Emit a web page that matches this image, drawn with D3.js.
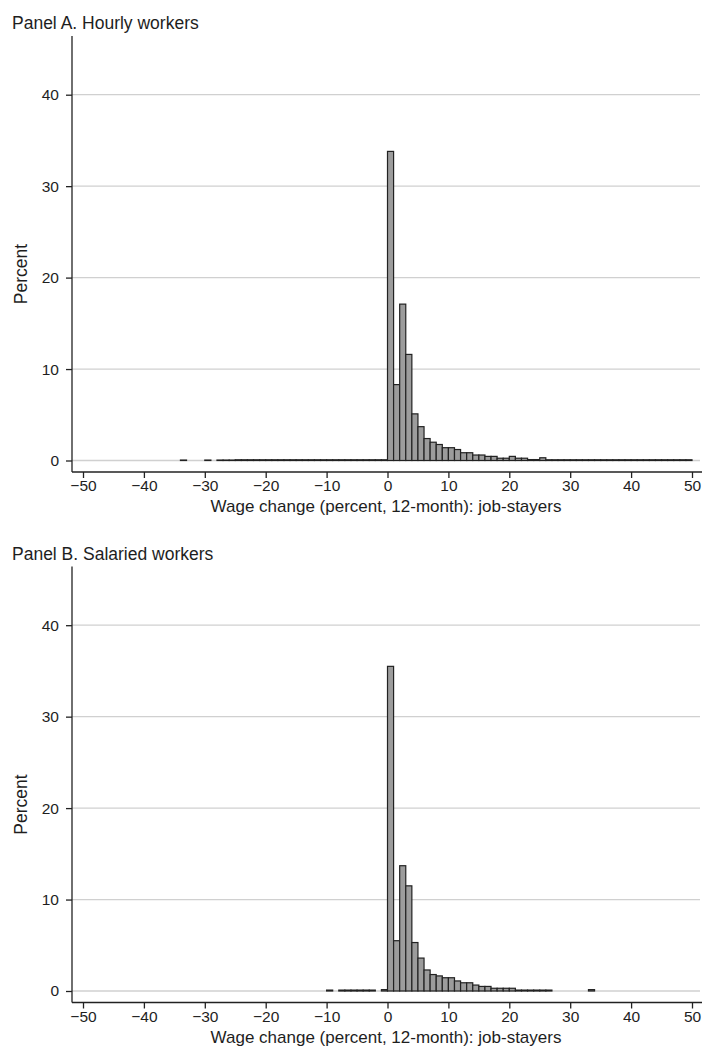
<!DOCTYPE html>
<html lang="en">
<head>
  <meta charset="utf-8" />
  <title>Wage change histograms</title>
  <script src="https://cdn.jsdelivr.net/npm/d3@7"></script>
  <style>
    body { margin: 0; background: #fff; }
    text { font-family: "Liberation Sans", Arial, sans-serif; fill: #1e1e1e; }
  </style>
</head>
<body>
<script>
// bin left edges, 1-point bins from -50 to 49
var binStarts = d3.range(-50, 50, 1);
var xTicks = [-50, -40, -30, -20, -10, 0, 10, 20, 30, 40, 50];
var yTicks = [0, 10, 20, 30, 40];

// Panel A: hourly workers (percent of job-stayers in each bin)
var hourlyValues = [
  0, 0, 0, 0, 0, 0, 0, 0, 0, 0,            // -50..-41
  0, 0, 0, 0, 0, 0, 0.05, 0, 0, 0,         // -40..-31
  0.05, 0, 0.05, 0.05, 0.05, 0.08, 0.08, 0.08, 0.08, 0.08, // -30..-21
  0.08, 0.08, 0.08, 0.08, 0.08, 0.08, 0.08, 0.08, 0.08, 0.08, // -20..-11
  0.08, 0.08, 0.08, 0.08, 0.08, 0.08, 0.08, 0.08, 0.08, 0.08, // -10..-1
  33.8, 8.3, 17.1, 11.6, 5.1, 3.7, 2.4, 2.0, 1.75, 1.4,      // 0..9
  1.4, 1.2, 0.85, 0.85, 0.6, 0.6, 0.45, 0.45, 0.25, 0.25,    // 10..19
  0.45, 0.25, 0.25, 0.1, 0.1, 0.3, 0.08, 0.08, 0.08, 0.08,   // 20..29
  0.08, 0.08, 0.08, 0.08, 0.08, 0.08, 0.08, 0.08, 0.08, 0.08, // 30..39
  0.08, 0.08, 0.08, 0.08, 0.08, 0.08, 0.08, 0.08, 0.08, 0.08  // 40..49
];

// Panel B: salaried workers
var salariedValues = [
  0, 0, 0, 0, 0, 0, 0, 0, 0, 0,            // -50..-41
  0, 0, 0, 0, 0, 0, 0, 0, 0, 0,            // -40..-31
  0, 0, 0, 0, 0, 0, 0, 0, 0, 0,            // -30..-21
  0, 0, 0, 0, 0, 0, 0, 0, 0, 0,            // -20..-11
  0.1, 0, 0.1, 0.1, 0.1, 0.1, 0.1, 0.1, 0, 0.15, // -10..-1
  35.5, 5.5, 13.7, 11.5, 5.3, 3.6, 2.3, 1.8, 1.65, 1.45,    // 0..9
  1.45, 1.1, 0.9, 0.9, 0.65, 0.5, 0.5, 0.3, 0.3, 0.3,       // 10..19
  0.3, 0.1, 0.1, 0.1, 0.1, 0.1, 0.1, 0, 0, 0,               // 20..29
  0, 0, 0, 0.15, 0, 0, 0, 0, 0, 0,                          // 30..39
  0, 0, 0, 0, 0, 0, 0, 0, 0, 0                              // 40..49
];

var panels = [
  {title: "Panel A. Hourly workers", values: hourlyValues, top: 0},
  {title: "Panel B. Salaried workers", values: salariedValues, top: 530.5}
];

var width = 702, height = 1049;
var svg = d3.select("body").append("svg")
  .attr("width", width)
  .attr("height", height);

var x = d3.scaleLinear().domain([-50, 50]).range([83, 692]);

panels.forEach(function(p) {
  var g = svg.append("g").attr("transform", "translate(0," + p.top + ")");
  var y = d3.scaleLinear().domain([0, 40]).range([460.5, 94.7]);
  var axisY = 472, plotLeft = 72, plotRight = 700;

  // gridlines
  g.selectAll("line.grid")
    .data(yTicks)
    .enter().append("line")
    .attr("class", "grid")
    .attr("x1", plotLeft).attr("x2", plotRight)
    .attr("y1", function(d) { return y(d); })
    .attr("y2", function(d) { return y(d); })
    .attr("stroke", "#d0d0d0")
    .attr("stroke-width", 1.3);

  // bars
  g.selectAll("rect.bar")
    .data(p.values)
    .enter().append("rect")
    .attr("class", "bar")
    .attr("x", function(d, i) { return x(binStarts[i]); })
    .attr("width", function(d, i) { return x(binStarts[i] + 1) - x(binStarts[i]); })
    .attr("y", function(d) { return y(d); })
    .attr("height", function(d) { return y(0) - y(d); })
    .attr("fill", "#9c9c9c")
    .attr("stroke", function(d) { return d === 0 ? "#555" : "#222"; })
    .attr("stroke-width", function(d) { return d === 0 ? 1 : 1.2; });

  // y axis
  var yAxis = d3.axisLeft(y).tickValues(yTicks).tickSize(6).tickPadding(7)
    .tickFormat(d3.format("d"));
  var ya = g.append("g").attr("transform", "translate(" + plotLeft + ",0)").call(yAxis);
  ya.select(".domain").remove();
  ya.append("line")
    .attr("x1", 0).attr("x2", 0)
    .attr("y1", 36).attr("y2", axisY)
    .attr("stroke", "#222").attr("stroke-width", 1.3);

  // x axis
  var xAxis = d3.axisBottom(x).tickValues(xTicks).tickSize(6).tickPadding(2)
    .tickFormat(function(d) { return d < 0 ? "\u2212" + Math.abs(d) : d; });
  var xa = g.append("g").attr("transform", "translate(0," + axisY + ")").call(xAxis);
  xa.select(".domain").remove();
  xa.append("line")
    .attr("x1", plotLeft).attr("x2", width)
    .attr("y1", 0).attr("y2", 0)
    .attr("stroke", "#222").attr("stroke-width", 1.3);

  g.selectAll(".tick line").attr("stroke", "#222").attr("stroke-width", 1.3);
  g.selectAll(".tick text")
    .style("font-size", "15.5px")
    .style("font-family", "'Liberation Sans', Arial, sans-serif")
    .attr("fill", "#1e1e1e");

  // titles
  g.append("text")
    .attr("x", 12).attr("y", 29)
    .style("font-size", "17.5px")
    .text(p.title);

  g.append("text")
    .attr("x", 386).attr("y", 512)
    .attr("text-anchor", "middle")
    .style("font-size", "17px")
    .text("Wage change (percent, 12-month): job-stayers");

  g.append("text")
    .attr("transform", "translate(27,274) rotate(-90)")
    .attr("text-anchor", "middle")
    .style("font-size", "17.5px")
    .text("Percent");
});
</script>
</body>
</html>
